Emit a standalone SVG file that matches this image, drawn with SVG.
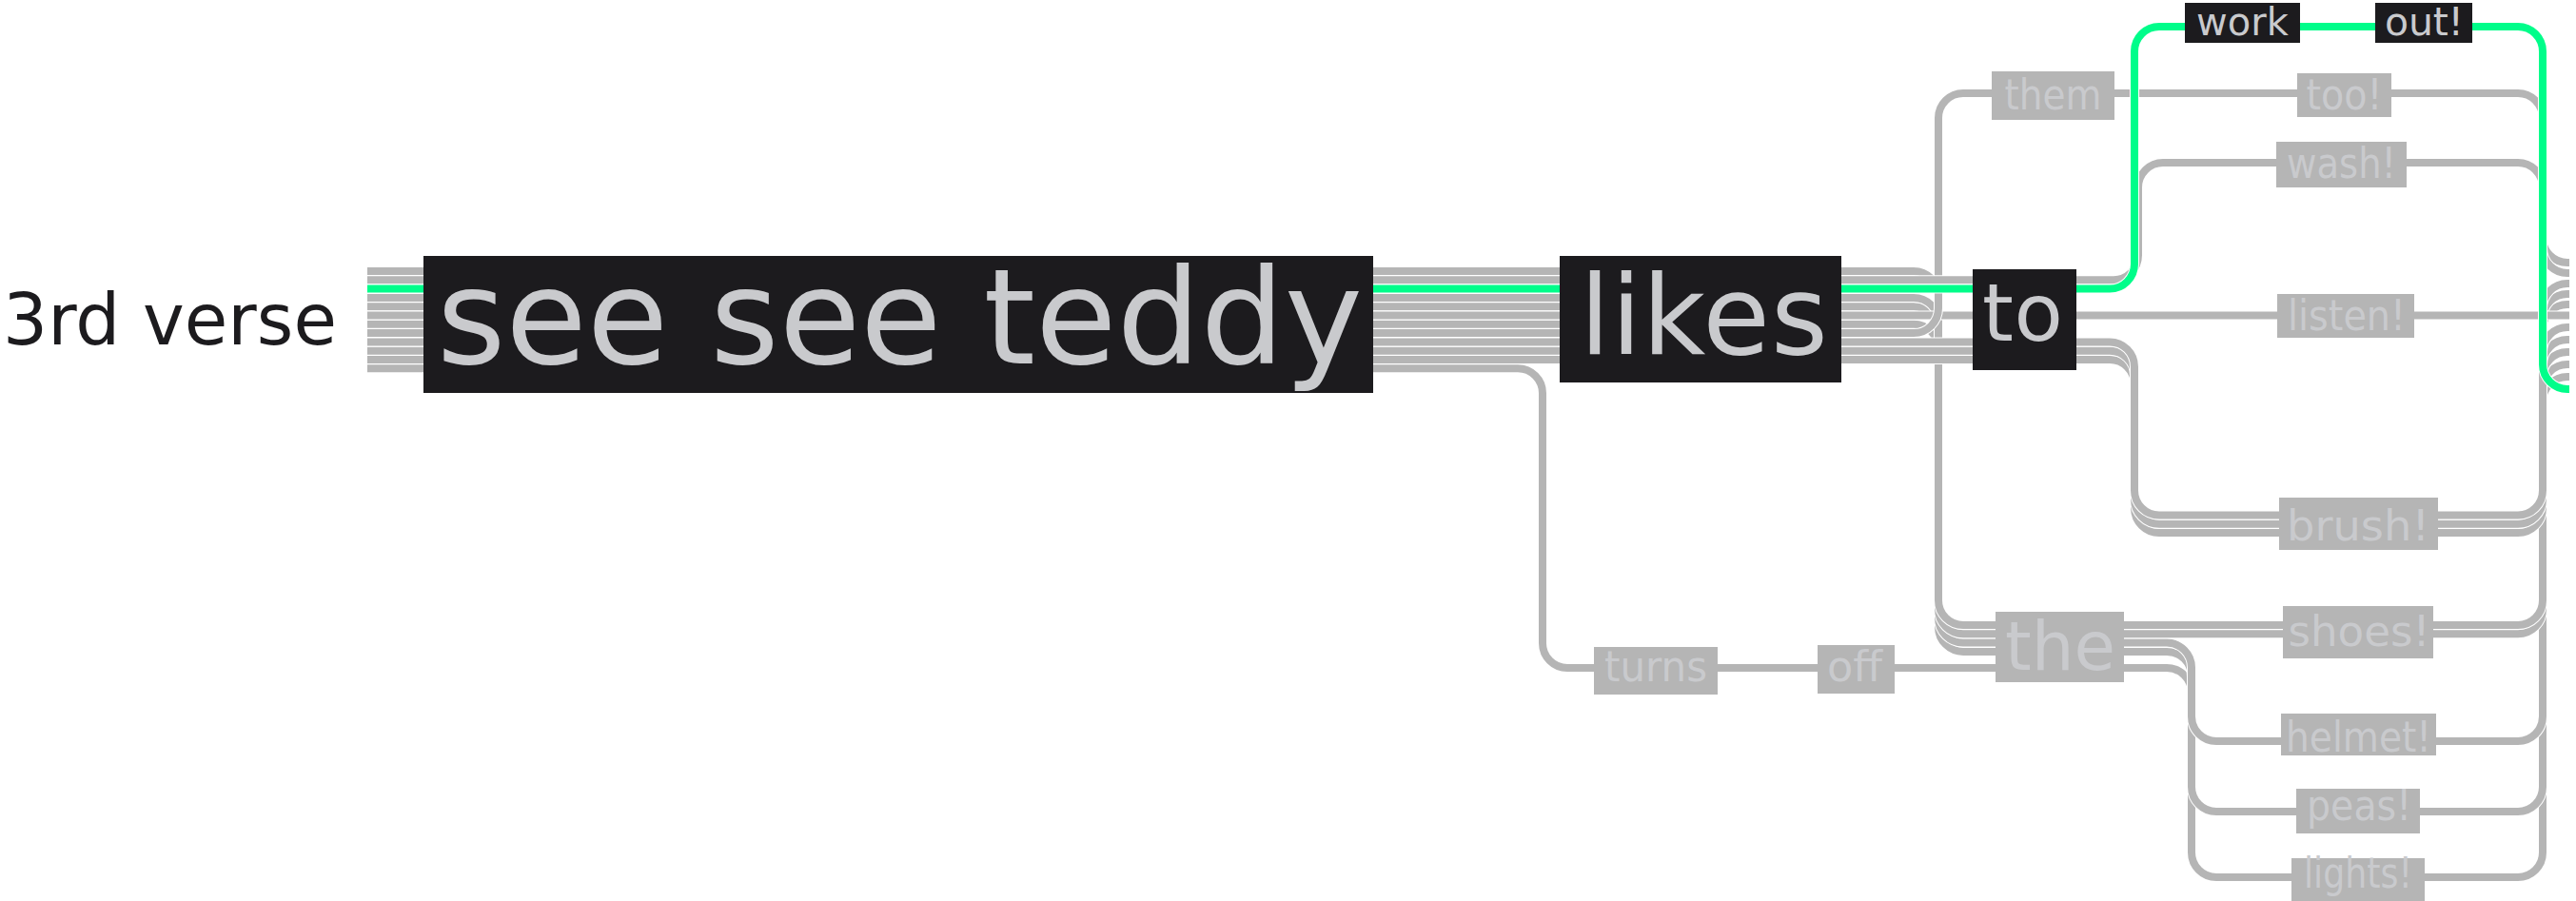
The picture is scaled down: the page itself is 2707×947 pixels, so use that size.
<svg xmlns="http://www.w3.org/2000/svg" xmlns:xlink="http://www.w3.org/1999/xlink" width="2707" height="947" viewBox="0 0 2707 947">
<style>
.cs{fill:none;stroke:#ffffff;stroke-width:10}
.ln{fill:none;stroke:#b5b5b5;stroke-width:8}
.gn{fill:none;stroke:#00fd8a;stroke-width:8}
.dk{fill:#1c1b1e}
.gy{fill:#b5b5b5}
.lt{fill:#c9cacd;font-family:"DejaVu Sans","Liberation Sans",Arial,sans-serif}
.sm{font-size:44px;text-anchor:middle}
</style>
<defs>
<path id="p-shoes1" d="M386 285 H2011 A26 26 0 0 1 2037 311 V631 A26 26 0 0 0 2063 657 H2646 A26 26 0 0 0 2672 631 V370 A26 26 0 0 1 2698 344 H2700"/>
<path id="p-wash" d="M386 294.3 H2221 A26 26 0 0 0 2247 268.3 V197 A26 26 0 0 1 2273 171 H2646 A26 26 0 0 1 2672 197 V261 A26 26 0 0 0 2698 287 H2700"/>
<path id="p-shoes2" d="M386 312.9 H2011 A26 26 0 0 1 2037 338.9 V640.3 A26 26 0 0 0 2063 666.3 H2646 A26 26 0 0 0 2672 640.3 V383 A26 26 0 0 1 2698 357 H2700"/>
<path id="p-helmet" d="M386 322.2 H2011 A26 26 0 0 1 2037 348.2 V649.6 A26 26 0 0 0 2063 675.6 H2277 A26 26 0 0 1 2303 701.6 V753 A26 26 0 0 0 2329 779 H2646 A26 26 0 0 0 2672 753 V396 A26 26 0 0 1 2698 370 H2700"/>
<path id="p-listen" d="M386 331.5 H2700"/>
<path id="p-peas" d="M386 340.8 H2011 A26 26 0 0 1 2037 366.8 V658.9 A26 26 0 0 0 2063 684.9 H2277 A26 26 0 0 1 2303 710.9 V827 A26 26 0 0 0 2329 853 H2646 A26 26 0 0 0 2672 827 V409 A26 26 0 0 1 2698 383 H2700"/>
<path id="p-them" d="M386 350.1 H2011 A26 26 0 0 0 2037 324.1 V124 A26 26 0 0 1 2063 98 H2646 A26 26 0 0 1 2672 124 V250 A26 26 0 0 0 2698 276 H2700"/>
<path id="p-brush1" d="M386 359.4 H2217 A26 26 0 0 1 2243 385.4 V515.5 A26 26 0 0 0 2269 541.5 H2646 A26 26 0 0 0 2672 515.5 V324 A26 26 0 0 1 2698 298 H2700"/>
<path id="p-brush2" d="M386 368.7 H2217 A26 26 0 0 1 2243 394.7 V524.8 A26 26 0 0 0 2269 550.8 H2646 A26 26 0 0 0 2672 524.8 V335 A26 26 0 0 1 2698 309 H2700"/>
<path id="p-brush3" d="M386 378 H2217 A26 26 0 0 1 2243 404 V534.1 A26 26 0 0 0 2269 560.1 H2646 A26 26 0 0 0 2672 534.1 V346 A26 26 0 0 1 2698 320 H2700"/>
<path id="p-lights" d="M386 387.3 H1595 A26 26 0 0 1 1621 413.3 V676 A26 26 0 0 0 1647 702 H2277 A26 26 0 0 1 2303 728 V896 A26 26 0 0 0 2329 922 H2646 A26 26 0 0 0 2672 896 V422 A26 26 0 0 1 2698 396 H2700"/>
<path id="p-work" d="M386 303.6 H2217 A26 26 0 0 0 2243 277.6 V54 A26 26 0 0 1 2269 28 H2646 A26 26 0 0 1 2672 54 V383 A26 26 0 0 0 2698 409 H2700"/>
</defs>

<g id="connectors">
<use xlink:href="#p-lights" class="cs"/><use xlink:href="#p-lights" class="ln"/>
<use xlink:href="#p-peas" class="cs"/><use xlink:href="#p-peas" class="ln"/>
<use xlink:href="#p-helmet" class="cs"/><use xlink:href="#p-helmet" class="ln"/>
<use xlink:href="#p-shoes2" class="cs"/><use xlink:href="#p-shoes2" class="ln"/>
<use xlink:href="#p-shoes1" class="cs"/><use xlink:href="#p-shoes1" class="ln"/>
<use xlink:href="#p-brush3" class="cs"/><use xlink:href="#p-brush3" class="ln"/>
<use xlink:href="#p-brush2" class="cs"/><use xlink:href="#p-brush2" class="ln"/>
<use xlink:href="#p-brush1" class="cs"/><use xlink:href="#p-brush1" class="ln"/>
<use xlink:href="#p-listen" class="cs"/><use xlink:href="#p-listen" class="ln"/>
<use xlink:href="#p-them" class="cs"/><use xlink:href="#p-them" class="ln"/>
<use xlink:href="#p-wash" class="cs"/><use xlink:href="#p-wash" class="ln"/>
<use xlink:href="#p-work" class="cs"/><use xlink:href="#p-work" class="gn"/>
</g>

<g id="title"><text x="3" y="362" font-size="74" textLength="351" style="fill:#1c1b1e;font-family:'DejaVu Sans','Liberation Sans',Arial,sans-serif">3rd verse</text></g>

<g id="n-see"><rect class="dk" x="445" y="269" width="998" height="144"/><text class="lt" x="459" y="382" font-size="139" textLength="973">see see teddy</text></g>
<g id="n-likes"><rect class="dk" x="1639" y="269" width="296" height="133"/><text class="lt" x="1660" y="372" font-size="115" textLength="261">likes</text></g>
<g id="n-to"><rect class="dk" x="2073" y="283" width="109" height="106"/><text class="lt" x="2083" y="358" font-size="84" textLength="85">to</text></g>
<g id="n-work"><rect class="dk" x="2296" y="3" width="121" height="42"/><text class="lt" x="2308" y="37" font-size="40" textLength="97">work</text></g>
<g id="n-out"><rect class="dk" x="2496" y="3" width="102" height="42"/><text class="lt" x="2506" y="37" font-size="41" textLength="83">out!</text></g>

<g id="n-them"><rect class="gy" x="2093" y="75" width="129" height="51"/><text class="lt sm" x="2157.5" y="115" textLength="102" lengthAdjust="spacingAndGlyphs">them</text></g>
<g id="n-too"><rect class="gy" x="2414" y="77" width="99" height="46"/><text class="lt sm" x="2463.5" y="115" textLength="80" lengthAdjust="spacingAndGlyphs">too!</text></g>
<g id="n-wash"><rect class="gy" x="2392" y="149" width="137" height="48"/><text class="lt sm" x="2460.5" y="187" textLength="115" lengthAdjust="spacingAndGlyphs">wash!</text></g>
<g id="n-listen"><rect class="gy" x="2393" y="309" width="144" height="46"/><text class="lt sm" x="2466" y="347" textLength="124" lengthAdjust="spacingAndGlyphs">listen!</text></g>
<g id="n-brush"><rect class="gy" x="2395" y="523" width="167" height="55"/><text class="lt sm" x="2478" y="568" textLength="150" lengthAdjust="spacingAndGlyphs">brush!</text></g>
<g id="n-the"><rect class="gy" x="2097" y="643" width="135" height="74"/><text class="lt" x="2165" y="704" font-size="71" text-anchor="middle" textLength="116" lengthAdjust="spacingAndGlyphs">the</text></g>
<g id="n-shoes"><rect class="gy" x="2399" y="637" width="158" height="55"/><text class="lt sm" x="2479" y="679" textLength="149" lengthAdjust="spacingAndGlyphs">shoes!</text></g>
<g id="n-helmet"><rect class="gy" x="2397" y="750" width="163" height="44"/><text class="lt sm" x="2478.5" y="790" textLength="153" lengthAdjust="spacingAndGlyphs">helmet!</text></g>
<g id="n-peas"><rect class="gy" x="2413" y="829" width="130" height="47"/><text class="lt sm" x="2479" y="862" textLength="110" lengthAdjust="spacingAndGlyphs">peas!</text></g>
<g id="n-lights"><rect class="gy" x="2408" y="902" width="140" height="45"/><text class="lt sm" x="2478" y="933" textLength="114" lengthAdjust="spacingAndGlyphs">lights!</text></g>
<g id="n-turns"><rect class="gy" x="1675" y="680" width="130" height="50"/><text class="lt sm" x="1740" y="716" textLength="108" lengthAdjust="spacingAndGlyphs">turns</text></g>
<g id="n-off"><rect class="gy" x="1910" y="678" width="81" height="51"/><text class="lt sm" x="1949" y="716" textLength="58" lengthAdjust="spacingAndGlyphs">off</text></g>
</svg>
